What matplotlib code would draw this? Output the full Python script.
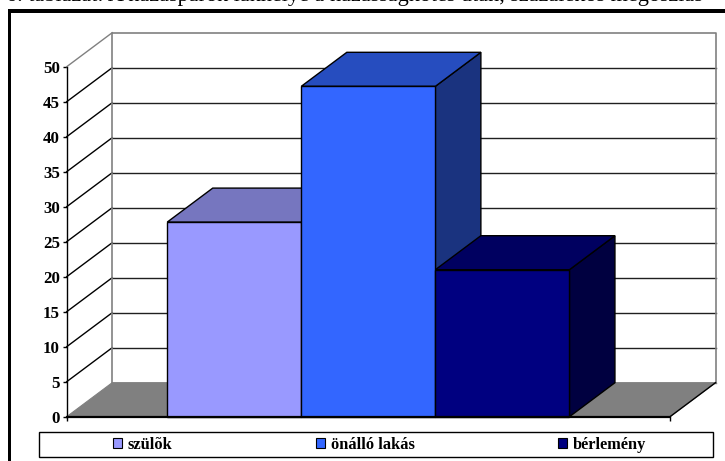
import matplotlib
matplotlib.use("Agg")
import matplotlib.pyplot as plt
from matplotlib.patches import Polygon, Rectangle, Patch

plt.rcParams['font.family'] = ['Liberation Serif', 'DejaVu Serif']

categories = ['szülõk', 'önálló lakás', 'bérlemény']
values = [27.8, 47.2, 21.0]
yticks = [0, 5, 10, 15, 20, 25, 30, 35, 40, 45, 50]
front_colors = ['#9999FF', '#3366FF', '#000080']
top_colors = ['#7676BF', '#264DBF', '#000060']
side_colors = ['#5C5C99', '#1A337F', '#000040']
caption = '6. táblázat: A házaspárok lakhelye a házasságkötés után, százalékos megoszlás'

W, H = 725, 461
fig = plt.figure(figsize=(W / 100, H / 100), dpi=100, facecolor='white')

def fx(px): return px / W
def fy(py): return 1 - py / H

# axes box: front plane of the 3D chart, in pixels
L, R, Y0, Y50 = 66.7, 670.0, 416.7, 66.7
ax = fig.add_axes([fx(L), fy(Y0), fx(R - L), (Y0 - Y50) / H])
ax.set_xlim(0, 4.5)
ax.set_ylim(0, 50)
ax.patch.set_visible(False)

ddx = 45.5 * 4.5 / (R - L)          # depth in data units
ddy = 34.0 * 50 / (Y0 - Y50)
xmax, ymax = 4.5, 50
GREY = '#808080'

# floor
ax.add_patch(Polygon([(0, 0), (ddx, ddy), (xmax + ddx, ddy), (xmax, 0)], closed=True,
                     fc=GREY, ec=GREY, lw=0.8, clip_on=False, zorder=1))
# grid on walls
for v in yticks[1:]:
    top = v == 50
    ax.plot([0, ddx], [v, v + ddy], color=GREY if top else 'black', lw=1.0, clip_on=False, zorder=2)
    if not top:
        ax.plot([ddx, xmax + ddx], [v + ddy, v + ddy], color='#202020', lw=1.0, clip_on=False, zorder=2)
# wall outline
ax.plot([ddx, ddx, xmax + ddx, xmax + ddx], [ddy, ymax + ddy, ymax + ddy, ddy],
        color=GREY, lw=1.2, clip_on=False, zorder=2)
ax.plot([ddx, xmax + ddx], [ddy, ddy], color=GREY, lw=1.0, clip_on=False, zorder=2)
ax.plot([xmax, xmax + ddx], [0, ddy], color='black', lw=1.0, clip_on=False, zorder=2)

# bars
for i, v in enumerate(values):
    x0, x1 = 0.75 + i, 1.75 + i
    z = 3 + i
    ax.add_patch(Polygon([(x1, 0), (x1 + ddx, ddy), (x1 + ddx, v + ddy), (x1, v)], closed=True,
                         fc=side_colors[i], ec='black', lw=1.0, clip_on=False, zorder=z))
    ax.add_patch(Polygon([(x0, v), (x0 + ddx, v + ddy), (x1 + ddx, v + ddy), (x1, v)], closed=True,
                         fc=top_colors[i], ec='black', lw=1.0, clip_on=False, zorder=z))
    ax.bar(x0, v, width=1, align='edge', color=front_colors[i], edgecolor='black', lw=1.0,
           clip_on=False, zorder=z)

for s in ('top', 'right'):
    ax.spines[s].set_visible(False)
ax.spines['left'].set_linewidth(1.0)
ax.spines['bottom'].set_linewidth(1.6)
ax.spines['bottom'].set_zorder(10)
ax.set_yticks(yticks)
ax.set_xticks([0, xmax])
ax.set_xticklabels(['', ''])
ax.tick_params(axis='y', length=3, width=1, pad=2, labelsize=12.2)
ax.tick_params(axis='x', length=3, width=1)
for t in ax.get_yticklabels():
    t.set_fontweight('bold')

# page frame (left and top rules)
fig.add_artist(Rectangle((fx(7.5), 0), 3.7 / W, fy(9), transform=fig.transFigure, fc='black', ec='none'))
fig.add_artist(Rectangle((fx(7.5), fy(13)), 1 - fx(7.5), 4 / H, transform=fig.transFigure, fc='black', ec='none'))

# caption line cut off at the top of the picture
fig.text(fx(6), fy(1.0), caption, fontsize=16, color='black', ha='left', va='baseline')

# legend
fig.add_artist(Rectangle((fx(38.5), fy(457)), (713 - 38.5) / W, 25 / H, transform=fig.transFigure,
                         fc='white', ec='black', lw=1.0))
handles = [Patch(fc=c, ec='black', lw=0.8) for c in front_colors]
leg = fig.legend(handles, categories, ncols=3, frameon=False, loc='center',
                 bbox_to_anchor=(fx(379.5), fy(445)), columnspacing=8.75, handlelength=0.55,
                 handleheight=0.55, handletextpad=0.36, borderpad=0,
                 prop={'weight': 'bold', 'size': 11.8, 'family': 'Liberation Serif'})
leg.set_zorder(20)

fig.savefig('out.png', dpi=100)
